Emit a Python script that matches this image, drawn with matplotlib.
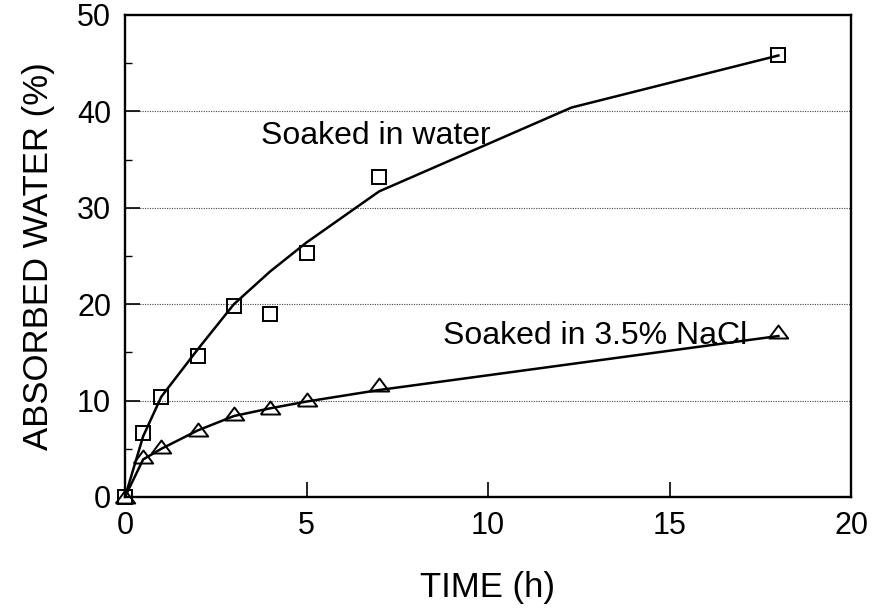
import numpy as np
import matplotlib
matplotlib.use("Agg")
import matplotlib.pyplot as plt
from matplotlib.ticker import MultipleLocator

plt.rcParams["font.family"] = ["Liberation Sans", "DejaVu Sans"]

# measured uptake (markers)
water_t = [0, 0.5, 1, 2, 3, 4, 5, 7, 18]
water_y = [0, 6.6, 10.4, 14.6, 19.8, 19.0, 25.3, 33.2, 45.8]
nacl_t = [0, 0.5, 1, 2, 3, 4, 5, 7, 18]
nacl_y = [0, 4.1, 5.2, 7.0, 8.6, 9.2, 10.1, 11.6, 17.1]

# fitted curves (drawn as polylines)
water_fit_t = [0, 0.5, 1, 2, 3, 4, 5, 7, 12.3, 18]
water_fit_y = [0, 6.3, 10.4, 15.3, 20.0, 23.4, 26.4, 31.7, 40.4, 45.8]
nacl_fit_t = [0, 0.5, 1, 2, 3, 4, 5, 7, 18]
nacl_fit_y = [0, 3.9, 5.0, 6.9, 8.4, 9.2, 9.9, 11.1, 16.7]

x_ticks = [0, 5, 10, 15, 20]
y_ticks = [0, 10, 20, 30, 40, 50]

fig = plt.figure(figsize=(8.9, 6.14), dpi=100)
ax = fig.add_axes([125 / 890, 1 - 497 / 614, (851 - 125) / 890, (497 - 15) / 614])

# dotted horizontal grid
for g in y_ticks[1:-1]:
    ax.axhline(g, color="#444444", lw=0.8, ls=(0, (1, 1.2)), zorder=0)

ax.plot(water_fit_t, water_fit_y, color="black", lw=1.8, zorder=2)
ax.plot(nacl_fit_t, nacl_fit_y, color="black", lw=1.8, zorder=2)

ax.plot(water_t, water_y, ls="none", marker="s", ms=10, mfc="none",
        mec="black", mew=1.4, zorder=3, clip_on=False)
tri = [(-1, -0.62), (1, -0.62), (0, 0.72), (-1, -0.62)]
ax.plot(nacl_t, nacl_y, ls="none", marker=tri, ms=14, mfc="none",
        mec="black", mew=1.4, zorder=3, clip_on=False)

ax.text(3.75, 36.6, "Soaked in water", fontsize=23, va="baseline", ha="left")
ax.text(8.75, 15.9, "Soaked in 3.5% NaCl", fontsize=23, va="baseline", ha="left")

ax.set_xlim(0, 20)
ax.set_ylim(0, 50)
ax.set_xticks(x_ticks)
ax.set_yticks(y_ticks)
ax.yaxis.set_minor_locator(MultipleLocator(5))

ax.tick_params(axis="x", which="major", direction="in", length=11, width=1.2,
               labelsize=22, pad=10, top=False)
ax.tick_params(axis="y", which="major", direction="in", length=11, width=1.2,
               labelsize=22, pad=10, right=False)
ax.tick_params(axis="y", which="minor", direction="in", length=5, width=1.0,
               right=False)

for s in ax.spines.values():
    s.set_linewidth(1.7)

ax.set_xlabel("TIME (h)", fontsize=25, labelpad=22)
ax.set_ylabel("ABSORBED WATER (%)", fontsize=25, labelpad=16)

fig.savefig("out.png", dpi=100)
